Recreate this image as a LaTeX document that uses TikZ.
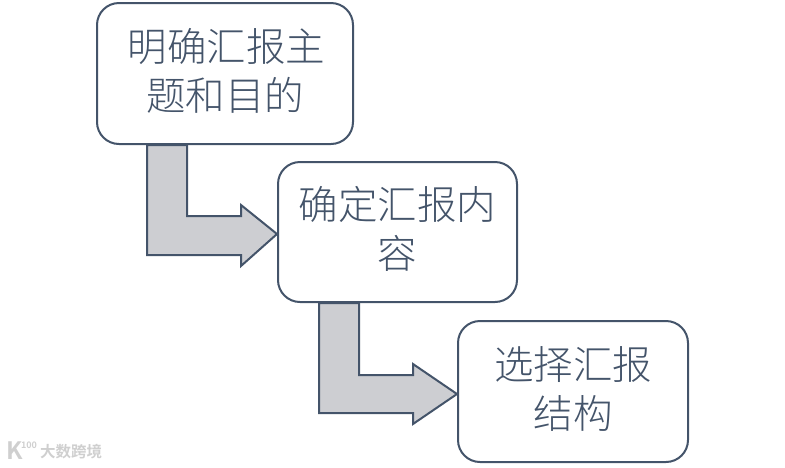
\documentclass[tikz,border=0pt]{standalone}
\usepackage{fontspec}
\setmainfont{Noto Sans CJK SC Light}
\usetikzlibrary{calc}
\definecolor{rahmen}{HTML}{44546A}
\definecolor{pfeil}{HTML}{CDCED2}
\definecolor{marke}{HTML}{CFCFCF}
\newcommand{\zeilen}[2]{#1\\#2\rule[-8.5pt]{0pt}{1pt}}

\begin{document}
\begin{tikzpicture}[
    x=1pt, y=-1pt,
    kasten/.style={
      rectangle,
      rounded corners=22pt,
      draw=rahmen,
      line width=2pt,
      fill=white,
      align=center,
      text=rahmen,
      font=\fontsize{39.5}{49}\selectfont,
      inner sep=0pt},
    blockpfeil/.style={
      draw=rahmen,
      fill=pfeil,
      line width=2pt,
      miter limit=10},
    marke/.style={
      inner sep=0pt,
      text=marke}
    ]

  \useasboundingbox (0,0) rectangle (785,467);

  \node at (225,73.5) (thema) [kasten, minimum width=256pt, minimum height=141pt] {\zeilen{\hspace{3pt}明确汇报主}{题和目的}};

  \node at (397.5,232) (inhalt) [kasten, minimum width=239pt, minimum height=140pt] {\zeilen{确定汇报内}{容}};

  \node at (573,391.5) (struktur) [kasten, minimum width=230pt, minimum height=141pt] {\zeilen{选择汇报}{结构}};

  \draw [blockpfeil] ($(thema.south west)+(51,0)$) -- ++(40,0) -- ++(0,71) -- ++(54,0) -- ++(0,-11)
    -- ($(inhalt.west)+(0,2)$) -- ++(-36,32) -- ++(0,-11) -- ++(-94,0) -- cycle;

  \draw [blockpfeil] ($(inhalt.south west)+(42,0)$) -- ++(40,0) -- ++(0,72) -- ++(54,0) -- ++(0,-11)
    -- ($(struktur.west)+(0,2.5)$) -- ++(-44,30) -- ++(0,-11) -- ++(-94,0) -- cycle;

  \node at (71,452) (schrift) [marke, font=\fontsize{15.5}{15}\bfseries\selectfont] {大数跨境};
  \node at (15,451) (logo) [marke, font=\fontsize{24}{24}\bfseries\selectfont] {K};
  \node at (29,445) (hundert) [marke, font=\fontsize{9}{9}\bfseries\selectfont] {100};

\end{tikzpicture}
\end{document}
